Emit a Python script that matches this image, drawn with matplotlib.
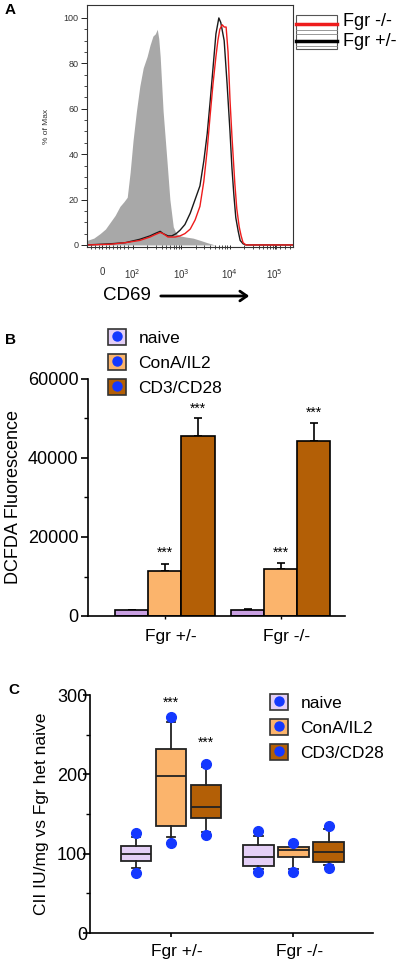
import numpy as np
import matplotlib
matplotlib.use('Agg')
import matplotlib.pyplot as plt
import matplotlib.transforms as mtransforms
from matplotlib.patches import Patch, Rectangle, FancyArrowPatch
from matplotlib.lines import Line2D

plt.rcParams['font.family'] = ['Liberation Sans', 'DejaVu Sans']

# ---- panel A: CD69 histograms (x in log10 display units, y = % of max)
gray_x = [1.06, 1.20, 1.33, 1.44, 1.54, 1.64, 1.74, 1.82, 1.89, 1.95, 2.01, 2.08, 2.15, 2.22, 2.30, 2.36, 2.42, 2.47, 2.51, 2.54, 2.57, 2.63, 2.67, 2.71, 2.77, 2.84, 2.90, 2.98, 3.10, 3.25, 3.40, 3.54, 3.70]
gray_y = [2, 3, 5, 7, 10, 13, 17, 19, 21, 32, 46, 59, 70, 78, 83, 88, 92, 93, 95, 91, 83, 59, 48, 37, 20, 8, 5, 4, 3.5, 3, 2, 1, 0]

black_x = [1.06, 1.54, 1.85, 2.15, 2.36, 2.46, 2.57, 2.63, 2.73, 2.81, 2.90, 2.98, 3.08, 3.19, 3.29, 3.39, 3.47, 3.54, 3.60, 3.66, 3.72, 3.78, 3.82, 3.89, 3.95, 4.01, 4.05, 4.09, 4.13, 4.18, 4.22, 4.28, 4.34, 5.31]
black_y = [0, 0.5, 1, 2.5, 4, 5, 6, 5, 4, 4, 5, 6.5, 9, 14, 20, 26, 37, 49, 63, 78, 93, 100, 98, 90, 71, 50, 34, 22, 12, 6, 2, 0.5, 0, 0]

red_x = [1.06, 1.54, 1.85, 2.15, 2.36, 2.46, 2.57, 2.63, 2.73, 2.88, 2.98, 3.08, 3.19, 3.29, 3.39, 3.47, 3.54, 3.60, 3.66, 3.72, 3.76, 3.80, 3.85, 3.89, 3.93, 3.97, 4.01, 4.05, 4.11, 4.15, 4.20, 4.24, 4.28, 4.34, 5.31]
red_y = [0, 0.3, 1, 2, 3.5, 4.5, 5.5, 5, 3.5, 3.5, 4, 5, 7, 11, 17, 28, 42, 57, 71, 83, 90, 95, 97, 96, 96, 85, 64, 48, 27, 16, 8, 4, 1, 0, 0]

a_tick_pos = [1.37, 2.0, 3.0, 4.0, 4.93]
a_tick_lab = ['0', '10$^{2}$', '10$^{3}$', '10$^{4}$', '10$^{5}$']
a_legend = ['Fgr -/-', 'Fgr +/-']

# ---- panel B: DCFDA fluorescence bars
genotypes = ['Fgr +/-', 'Fgr -/-']
treatments = ['naive', 'ConA/IL2', 'CD3/CD28']
dcfda_mean = {'naive': [1500, 1500], 'ConA/IL2': [11500, 11900], 'CD3/CD28': [45500, 44300]}
dcfda_err = {'naive': [0, 300], 'ConA/IL2': [1700, 1500], 'CD3/CD28': [4600, 4600]}
dcfda_star = {'naive': [None, None], 'ConA/IL2': [16000, 16000], 'CD3/CD28': [52400, 51400]}

# ---- panel C: CII activity box plots (one value per genotype)
c_q1 = {'naive': [91, 84], 'ConA/IL2': [135, 96], 'CD3/CD28': [145, 89]}
c_med = {'naive': [100, 96], 'ConA/IL2': [198, 105], 'CD3/CD28': [159, 102]}
c_q3 = {'naive': [110, 111], 'ConA/IL2': [232, 109], 'CD3/CD28': [187, 115]}
c_lo = {'naive': [82, 81], 'ConA/IL2': [121, 81], 'CD3/CD28': [127, 86]}
c_hi = {'naive': [121, 122], 'ConA/IL2': [266, 112], 'CD3/CD28': [209, 131]}
c_dot_lo = {'naive': [76, 77], 'ConA/IL2': [114, 77], 'CD3/CD28': [124, 82]}
c_dot_hi = {'naive': [126, 128], 'ConA/IL2': [272, 114], 'CD3/CD28': [213, 135]}
c_star = {'naive': [None, None], 'ConA/IL2': [290, None], 'CD3/CD28': [240, None]}

bar_colors = {'naive': '#c9a0e2', 'ConA/IL2': '#fbb46c', 'CD3/CD28': '#b35f06'}
box_colors = {'naive': '#e4cff6', 'ConA/IL2': '#fbb46c', 'CD3/CD28': '#b35f06'}
dot_blue = '#1438ff'

fig = plt.figure(figsize=(4, 9.64), dpi=100)


def add_ax(l, t, r, b):
    return fig.add_axes([l / 400, 1 - b / 964, (r - l) / 400, (b - t) / 964])


def fy(py):
    return 1 - py / 964


def shift_labels(ax, dx_px):
    off = mtransforms.ScaledTranslation(dx_px / 100, 0, fig.dpi_scale_trans)
    for lab in ax.get_xticklabels():
        lab.set_transform(lab.get_transform() + off)


# ================= A
axA = add_ax(87, 5, 293, 247)
axA.fill_between(gray_x, gray_y, color='#a8a8a8', lw=0)
axA.plot(black_x, black_y, color='#1a1a1a', lw=1.0)
axA.plot(red_x, red_y, color='#ee1c1c', lw=1.0)
axA.set_xlim(1.06, 5.31)
axA.set_ylim(-0.9, 105.7)
axA.set_yticks(range(0, 101, 20))
axA.set_yticks(range(0, 101, 5), minor=True)
axA.tick_params(axis='y', labelsize=6.5, labelcolor='#333333', length=4, width=0.6, pad=2)
axA.tick_params(axis='y', which='minor', length=2, width=0.5)
axA.set_xticks(a_tick_pos)
axA.set_xticklabels(a_tick_lab)
minor = []
for d in [2, 3, 4]:
    minor += [np.log10(k * 10 ** d) for k in range(2, 10)]
minor += [1.15, 1.22, 1.30, 1.45, 1.52, 1.60, 1.68, 1.75, 1.83, 1.90, 5.05, 5.15, 5.25]
axA.set_xticks(minor, minor=True)
axA.tick_params(axis='x', labelsize=7, labelcolor='#333333', length=3, width=0.6, pad=13, direction='inout')
axA.tick_params(axis='x', which='minor', length=3, width=0.5, direction='inout')
for s in axA.spines.values():
    s.set_linewidth(0.8)
    s.set_color('#333333')
axA.set_ylabel('% of Max', fontsize=6, color='#333333', labelpad=10)

fig.text(5 / 400, fy(10), 'A', fontsize=11, fontweight='bold', va='center')
fig.text(103 / 400, fy(295), 'CD69', fontsize=13.5, va='center')
fig.add_artist(FancyArrowPatch((158 / 400, fy(296)), (252 / 400, fy(296)),
                               transform=fig.transFigure,
                               arrowstyle='->,head_length=5,head_width=3.5',
                               lw=2, color='black'))

# legend A
fig.add_artist(Rectangle((296 / 400, fy(49)), 41 / 400, 34 / 964, transform=fig.transFigure,
                         fill=False, ec='#555555', lw=0.8))
for py in [30, 34, 46]:
    fig.add_artist(Line2D([296 / 400, 337 / 400], [fy(py), fy(py)], color='#888888', lw=0.6))
fig.add_artist(Line2D([296 / 400, 337 / 400], [fy(24), fy(24)], color='#ee1c1c', lw=2.5))
fig.add_artist(Line2D([296 / 400, 337 / 400], [fy(41), fy(41)], color='black', lw=2.5))
fig.text(343 / 400, fy(22), a_legend[0], fontsize=13, va='center')
fig.text(343 / 400, fy(42), a_legend[1], fontsize=13, va='center')

# ================= B
axB = add_ax(88, 379, 345, 616)
group_pos = np.array([0, 3.5])
for i, t in enumerate(treatments):
    x = group_pos + (i - 1)
    axB.bar(x, dcfda_mean[t], width=1, color=bar_colors[t], edgecolor='black', lw=1.2, zorder=2)
    axB.errorbar(x, dcfda_mean[t], yerr=[np.zeros(2), dcfda_err[t]], fmt='none',
                 ecolor='black', elinewidth=1.2, capsize=3, capthick=1.2, zorder=1)
    for xx, s in zip(x, dcfda_star[t]):
        if s is not None:
            axB.text(xx, s, '***', ha='center', va='center', fontsize=10)
axB.set_xlim(-2.33, 5.45)
axB.set_ylim(0, 60000)
axB.spines['top'].set_visible(False)
axB.spines['right'].set_visible(False)
axB.spines['left'].set_linewidth(1.2)
axB.spines['bottom'].set_linewidth(1.2)
axB.set_yticks([0, 20000, 40000, 60000])
axB.set_yticks(range(0, 60001, 10000), minor=True)
axB.tick_params(axis='y', labelsize=13, length=5, width=1.2, pad=2)
axB.tick_params(axis='y', which='minor', length=3, width=1)
axB.set_xticks(group_pos)
axB.set_xticklabels(genotypes)
axB.tick_params(axis='x', labelsize=12.5, length=2, width=1, pad=7)
shift_labels(axB, 6)
axB.set_ylabel('DCFDA Fluorescence', fontsize=13, labelpad=4)

fig.text(5 / 400, fy(340), 'B', fontsize=11, fontweight='bold', va='center')


def legend_handles(colors):
    hs = []
    for t in treatments:
        hs.append((Patch(facecolor=colors[t], edgecolor='#333333', lw=1.2),
                   Line2D([], [], marker='o', ls='', color=dot_blue, ms=6.5)))
    return hs


fig.legend(legend_handles(box_colors), treatments, loc='upper left',
           bbox_to_anchor=(108 / 400, fy(329)), frameon=False, fontsize=12.5,
           handlelength=1.05, handleheight=1.05, handletextpad=0.7, labelspacing=0.45,
           borderaxespad=0, borderpad=0)

# ================= C
axC = add_ax(90, 695, 373, 933)
for i, t in enumerate(treatments):
    stats = []
    for g in range(2):
        stats.append({'med': c_med[t][g], 'q1': c_q1[t][g], 'q3': c_q3[t][g],
                      'whislo': c_lo[t][g], 'whishi': c_hi[t][g],
                      'fliers': [c_dot_lo[t][g], c_dot_hi[t][g]]})
    pos = group_pos + (i - 1)
    axC.bxp(stats, positions=pos, widths=0.86, patch_artist=True, manage_ticks=False,
            boxprops=dict(facecolor=box_colors[t], edgecolor='#222222', lw=1.3),
            medianprops=dict(color='#222222', lw=1.3),
            whiskerprops=dict(color='#222222', lw=1.3),
            capprops=dict(color='#222222', lw=1.3), capwidths=0.25,
            flierprops=dict(marker='o', markerfacecolor=dot_blue, markeredgecolor=dot_blue,
                            markersize=7))
    for xx, s in zip(pos, c_star[t]):
        if s is not None:
            axC.text(xx, s, '***', ha='center', va='center', fontsize=10)
axC.set_xlim(-2.31, 5.77)
axC.set_ylim(0, 300)
axC.spines['top'].set_visible(False)
axC.spines['right'].set_visible(False)
axC.spines['left'].set_linewidth(1.2)
axC.spines['bottom'].set_linewidth(1.2)
axC.set_yticks([0, 100, 200, 300])
axC.set_yticks(range(0, 301, 50), minor=True)
axC.tick_params(axis='y', labelsize=13, length=5, width=1.2, pad=-3)
axC.tick_params(axis='y', which='minor', length=3, width=1)
axC.set_xticks(group_pos)
axC.set_xticklabels(genotypes)
axC.tick_params(axis='x', labelsize=12.5, length=3, width=1.2, pad=5)
shift_labels(axC, 6)
axC.set_ylabel('CII IU/mg vs Fgr het naive', fontsize=12.5, labelpad=6)

fig.text(8 / 400, fy(690), 'C', fontsize=11, fontweight='bold', va='center')

fig.legend(legend_handles(box_colors), treatments, loc='upper left',
           bbox_to_anchor=(270 / 400, fy(694)), frameon=False, fontsize=12.5,
           handlelength=1.05, handleheight=1.05, handletextpad=0.7, labelspacing=0.45,
           borderaxespad=0, borderpad=0)

fig.savefig('out.png', dpi=100)
